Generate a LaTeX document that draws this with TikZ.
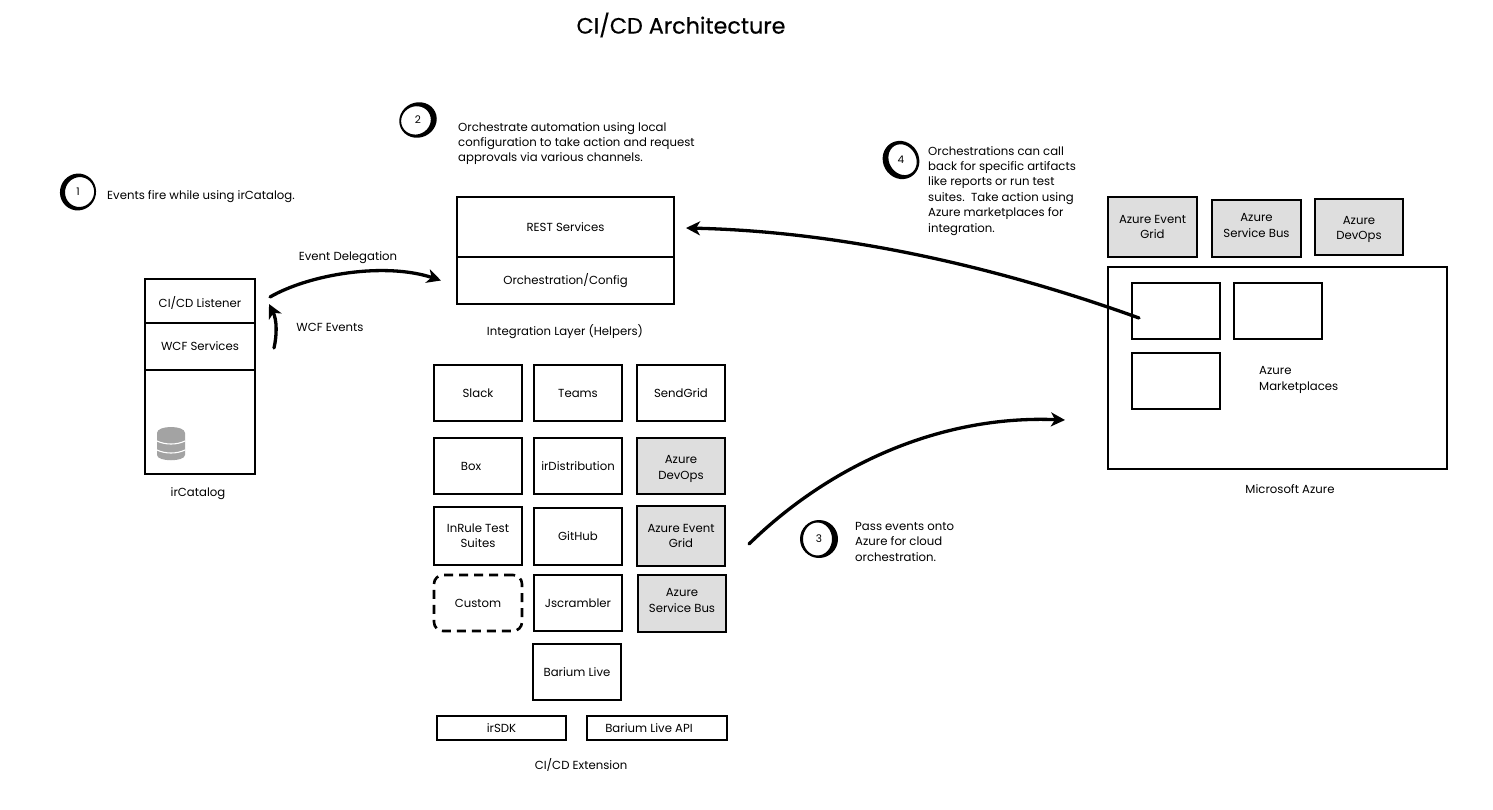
\documentclass[tikz,border=0pt]{standalone}
\usepackage{fontspec}
\setmainfont{Poppins}
\newfontfamily\titlefont[FakeBold=0.5]{Poppins}
\usetikzlibrary{arrows.meta,calc}
\tikzset{
  sk/.style={draw=black,line width=2pt,rectangle,align=center,inner sep=0pt,font=\fontsize{11.7}{15.2}\selectfont},
  gr/.style={sk,fill=black!13},
  dsh/.style={sk,line width=2.6pt,dash pattern=on 9pt off 6pt,rounded corners=9pt},
  lbl/.style={inner sep=0pt,font=\fontsize{11.7}{15.4}\selectfont},
  note/.style={lbl,align=left,anchor=north west},
  flow/.style={line width=3.3pt,line cap=round,-{Stealth[length=14pt,width=14pt,inset=4pt]}},
  num/.style={circle,inner sep=0pt,minimum size=28pt,font=\fontsize{10.5}{12}\selectfont},
}
\newcommand{\bx}[7][sk]{\node[#1,minimum width={(#4-#2)*1pt},minimum height={(#5-#3)*1pt}] (#6) at ({(#2+#4)/2},{(#3+#5)/2}) {#7};}
\newcommand{\nudge}[2]{\raisebox{#1}[9pt][3pt]{#2}}
% name, rotation, rx, ry, inner dx, inner dy, inner rx, inner ry
\newcommand{\ring}[8]{%
  \fill[black,even odd rule,shift={(#1.center)},rotate=#2]
    (0,0) ellipse[x radius=#3,y radius=#4]
    (#5,#6) ellipse[x radius=#7,y radius=#8];}
\begin{document}
\begin{tikzpicture}[x=1pt,y=-1pt]
\useasboundingbox (0,0) rectangle (1493,810);

\node[inner sep=0pt,font=\titlefont\fontsize{22.3}{26}\selectfont] (title) at (681,25) {CI/CD Architecture};

% irCatalog
\bx{145}{279}{255}{474}{cat}{}
\bx{145}{279}{255}{323}{listener}{\nudge{-3pt}{CI/CD Listener}}
\bx{145}{323}{255}{370}{wcf}{WCF Services}
\node[lbl] (catl) at (198,494) {irCatalog};
\fill[black!36] (157,433) .. controls (157,425) and (185,425) .. (185,433)
   -- (185,455) .. controls (185,462) and (157,462) .. (157,455) -- cycle;
\draw[white,line width=1.1pt] (157,441) .. controls (165,445) and (177,445) .. (185,441);
\draw[white,line width=1.1pt] (157,450) .. controls (165,454) and (177,454) .. (185,450);

% integration
\bx{457}{197}{674}{257}{rest}{REST Services}
\bx{457}{257}{674}{304}{orch}{Orchestration/Config}
\node[lbl] (intl) at (565,332) {Integration Layer (Helpers)};

% grid
\bx{434}{365}{522}{421}{slack}{Slack}
\bx{534}{365}{622}{421}{teams}{Teams}
\bx{637}{365}{725}{421}{sendgrid}{SendGrid}
\bx{434}{438}{522}{494}{box}{\hspace*{-14pt}Box}
\bx{534}{438}{622}{494}{irdist}{irDistribution}
\bx[gr]{637}{438}{725}{494}{devops}{\nudge{-2.5pt}{Azure}\\\nudge{-2.5pt}{DevOps}}
\bx{434}{507}{522}{565}{inrule}{InRule Test\\Suites}
\bx{534}{508}{622}{565}{github}{GitHub}
\bx[gr]{637}{506}{725}{566}{evgrid}{Azure Event\\Grid}
\bx[dsh]{434}{575}{522}{631}{custom}{Custom}
\bx{534}{575}{622}{631}{jscr}{Jscrambler}
\bx[gr]{638}{575}{726}{632}{svcbus}{\nudge{2pt}{Azure}\\\nudge{2pt}{Service Bus}}
\bx{533}{644}{621}{700}{barium}{Barium Live}
\bx{437}{716}{566}{740}{irsdk}{irSDK}
\bx{587}{716}{727}{740}{barapi}{\hspace*{-16pt}Barium Live API}
\node[lbl] (extl) at (581,765) {CI/CD Extension};

% azure top
\bx[gr]{1108}{197}{1197}{257}{azgrid}{Azure Event\\Grid}
\bx[gr]{1212}{200}{1301}{257}{azbus}{\nudge{2pt}{Azure}\\\nudge{2pt}{Service Bus}}
\bx[gr]{1315}{199}{1403}{255}{azdev}{\nudge{-2pt}{Azure}\\\nudge{-2pt}{DevOps}}
% azure main
\bx{1108}{267}{1447}{469}{azure}{}
\bx{1132}{283}{1220}{339}{mk1}{}
\bx{1234}{283}{1322}{339}{mk2}{}
\bx{1132}{353}{1220}{409}{mk3}{}
\node[note] (mkl) at (1259,366.5) {Azure\\Marketplaces};
\node[lbl] (azl) at (1290,489) {Microsoft Azure};

% notes
\node[num] (n1) at (78,192) {1};
\node[num] (n2) at (418,120) {2};
\node[num] (n3) at (819,539) {3};
\node[num] (n4) at (901,160) {4};
\ring{n1}{-20}{18}{18.5}{1.5}{-0.5}{14.5}{15}
\ring{n2}{25}{19}{17.5}{-2}{-0.5}{15}{14}
\ring{n3}{0}{19}{19}{-1.5}{0}{14.5}{16.5}
\ring{n4}{30}{18}{19.5}{1.5}{0.5}{13.5}{16}
\node[lbl,anchor=west] (t1) at (107,197) {Events fire while using irCatalog.};
\node[note] (t2) at (458,122) {Orchestrate automation using local\\configuration to take action and request\\approvals via various channels.};
\node[note] (t3) at (855,522) {Pass events onto\\Azure for cloud\\orchestration.};
\node[note] (t4) at (928,146) {Orchestrations can call\\back for specific artifacts\\like reports or run test\\suites.\ \ Take action using\\Azure marketplaces for\\integration.};
\node[lbl] (ed) at (348,258) {Event Delegation};
\node[lbl] (we) at (330,327) {WCF Events};

% connectors
\draw[flow] ([xshift=18pt,yshift=-1.5pt]wcf.east) .. controls (277,335) and (277,320) .. ([xshift=13pt,yshift=-3pt]listener.east);
\draw[flow] ([xshift=14pt,yshift=4pt]listener.east) .. controls (310,274) and (385,262) .. ([xshift=-15pt]orch.west);
\draw[flow] ([xshift=8pt,yshift=-7pt]mk1.west) .. controls (1020,275) and (860,232) .. ([xshift=11pt,yshift=-1pt]rest.east);
\draw[flow] ([xshift=23pt,yshift=-8pt]evgrid.east) .. controls (830,465) and (940,415) .. ([xshift=-42pt,yshift=-52pt]azure.west);
\end{tikzpicture}
\end{document}
